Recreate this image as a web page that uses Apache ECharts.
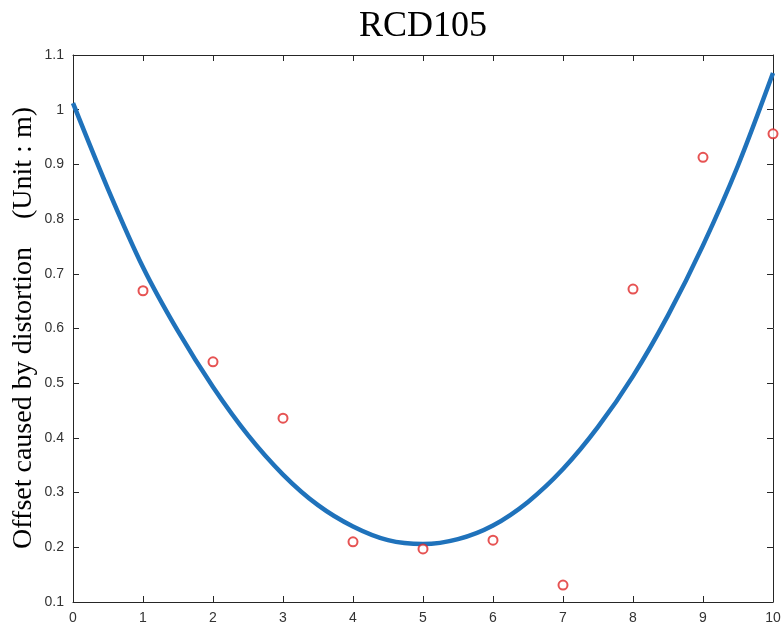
<!DOCTYPE html>
<html>
<head>
<meta charset="utf-8">
<script src="https://cdn.jsdelivr.net/npm/echarts@6/dist/echarts.min.js"></script>
<style>html,body{margin:0;padding:0;background:#fff;}#c{width:784px;height:628px;}</style>
</head>
<body>
<div id="c"></div>
<script>
// Measured samples (red circles)
const sampleX = [1, 2, 3, 4, 5, 6, 7, 8, 9, 10];
const sampleY = [0.669, 0.539, 0.436, 0.210, 0.197, 0.213, 0.131, 0.672, 0.913, 0.956];
// Fitted curve at half steps
const curveX = [0, 0.5, 1, 1.5, 2, 2.5, 3, 3.5, 4, 4.5, 5, 5.5, 6, 6.5, 7, 7.5, 8, 8.5, 9, 9.5, 10];
const curveY = [1.012, 0.855, 0.712, 0.595, 0.493, 0.405, 0.333, 0.277, 0.238, 0.213, 0.206,
                0.215, 0.240, 0.283, 0.343, 0.420, 0.513, 0.624, 0.752, 0.898, 1.067];
const xTicks = [0, 1, 2, 3, 4, 5, 6, 7, 8, 9, 10];
const yTicks = [0.1, 0.2, 0.3, 0.4, 0.5, 0.6, 0.7, 0.8, 0.9, 1, 1.1];
const titleText = 'RCD105';
const yLabel = 'Offset caused by distortion    (Unit : m)';

const chart = echarts.init(document.getElementById('c'));
const axisColor = '#262626';
const labelStyle = {color: '#333', fontFamily: 'Liberation Sans, Arial, sans-serif', fontSize: 14};
function baseAxis(extra) {
  return Object.assign({
    type: 'value',
    axisLine: {show: true, onZero: false, lineStyle: {color: axisColor, width: 1}},
    axisTick: {show: true, inside: true, length: 6, lineStyle: {color: axisColor}},
    splitLine: {show: false}
  }, extra);
}
chart.setOption({
  animation: false,
  backgroundColor: '#fff',
  grid: {left: 73, right: 11, top: 55, bottom: 26, containLabel: false},
  xAxis: [
    baseAxis({min: xTicks[0], max: xTicks[xTicks.length - 1], interval: 1, position: 'bottom',
      axisLabel: Object.assign({margin: 9, formatter: v => String(v)}, labelStyle)}),
    baseAxis({min: xTicks[0], max: xTicks[xTicks.length - 1], interval: 1, position: 'top',
      axisLabel: {show: false}})
  ],
  yAxis: [
    baseAxis({min: yTicks[0], max: yTicks[yTicks.length - 1], interval: 0.1, position: 'left',
      axisLabel: Object.assign({margin: 9, formatter: v => String(Math.round(v * 10) / 10)}, labelStyle)}),
    baseAxis({min: yTicks[0], max: yTicks[yTicks.length - 1], interval: 0.1, position: 'right',
      axisLabel: {show: false}})
  ],
  graphic: [
    {
      type: 'text', x: 423, y: 27,
      style: {text: titleText, fill: '#000', font: '36px "Liberation Serif", "Times New Roman", serif',
        textAlign: 'center', textVerticalAlign: 'middle'}
    },
    {
      type: 'text', x: 24, y: 328, rotation: Math.PI / 2,
      style: {text: yLabel, fill: '#000', font: '28px "Liberation Serif", "Times New Roman", serif',
        textAlign: 'center', textVerticalAlign: 'middle'}
    }
  ],
  series: [
    {
      type: 'line', xAxisIndex: 0, yAxisIndex: 0,
      data: curveX.map((x, i) => [x, curveY[i]]),
      smooth: 0.3, showSymbol: false, symbol: 'none',
      lineStyle: {color: '#1f72bb', width: 4.5}, clip: false, z: 2
    },
    {
      type: 'scatter', xAxisIndex: 0, yAxisIndex: 0,
      data: sampleX.map((x, i) => [x, sampleY[i]]),
      symbol: 'emptyCircle', symbolSize: 9,
      itemStyle: {color: '#e02828', borderColor: '#e02828', borderWidth: 1.2},
      clip: false, z: 3
    }
  ]
});
</script>
</body>
</html>
